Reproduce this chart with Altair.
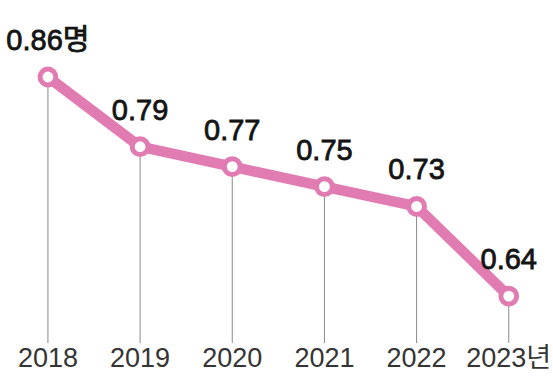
import altair as alt
import pandas as pd

years = [2018, 2019, 2020, 2021, 2022, 2023]
values = [0.86, 0.79, 0.77, 0.75, 0.73, 0.64]
value_labels = ["0.86명", "0.79", "0.77", "0.75", "0.73", "0.64"]
year_labels = ["2018", "2019", "2020", "2021", "2022", "2023년"]

df = pd.DataFrame({
    "year": years,
    "value": values,
    "vlabel": value_labels,
    "ylabel": year_labels,
})

PINK = "#e17cb3"
FONT = "'Liberation Sans', 'Noto Sans CJK KR', sans-serif"

x = alt.X("year:Q", scale=alt.Scale(domain=[2017.48, 2023.48], nice=False, zero=False), axis=None)
y = alt.Y("value:Q", scale=alt.Scale(domain=[0.5588, 0.9373], nice=False, zero=False), axis=None)

base = alt.Chart(df)

rules = base.mark_rule(color="#8a8a8a", strokeWidth=1).encode(
    x=x, y=y, y2=alt.value(343)
)

line = base.mark_line(color=PINK, strokeWidth=10.5, strokeJoin="round", strokeCap="round").encode(
    x=x, y=y
)

points = base.mark_point(
    shape="circle", filled=False, fill="white", fillOpacity=1,
    stroke=PINK, strokeWidth=5, size=250, opacity=1
).encode(x=x, y=y)

vlabels = base.mark_text(
    font=FONT, fontSize=29, color="#141414", stroke="#141414", strokeWidth=0.8,
    baseline="alphabetic", align="center", dy=-27
).encode(x=x, y=y, text="vlabel:N")

ylabels = base.mark_text(
    font=FONT, fontSize=27, color="#353535", baseline="alphabetic", align="center"
).encode(x=x, y=alt.value(367), text="ylabel:N")

chart = alt.layer(rules, line, points, vlabels, ylabels).properties(
    width=553, height=377,
    autosize=alt.AutoSizeParams(type="none"),
    padding=0,
    background="white",
).configure_view(stroke=None)

chart.save("out.html", embed_options={"renderer": "svg", "actions": False})
